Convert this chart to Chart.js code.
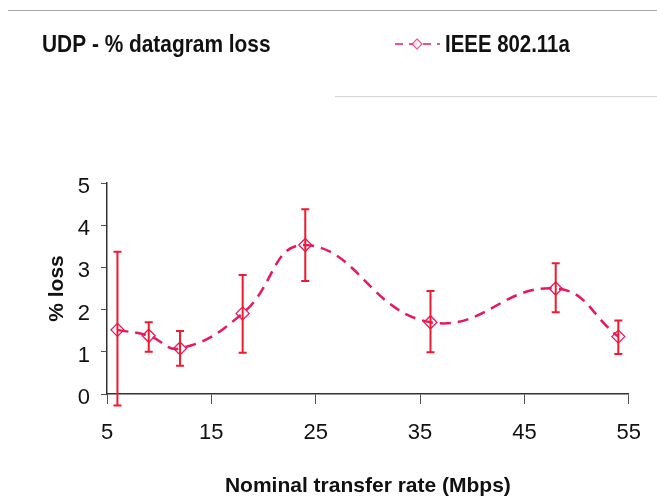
<!DOCTYPE html>
<html>
<head>
<meta charset="utf-8">
<script src="https://cdn.jsdelivr.net/npm/chart.js@4.4.1/dist/chart.umd.min.js"></script>
<style>
  html, body { margin: 0; padding: 0; background: #fff; }
  #wrap { position: relative; width: 657px; height: 501px; }
  #chart { position: absolute; left: 0; top: 0; }
  .rule { position: absolute; height: 0; border-top: 1px solid #a8a8a8; }
</style>
</head>
<body>
<div id="wrap">
  <div class="rule" style="left:8px; top:10px; width:649px;"></div>
  <div class="rule" style="left:335px; top:96px; width:322px; border-color:#d4d4d4;"></div>
  <canvas id="chart" width="657" height="501"></canvas>
</div>
<script>
// ---- données ----
const chartTitle = 'UDP - % datagram loss';
const seriesName = 'IEEE 802.11a';
const rates = [6, 9, 12, 18, 24, 36, 48, 54];            // Mbps
const lossPct = [1.52, 1.38, 1.08, 1.91, 3.53, 1.70, 2.50, 1.36];
const lossHigh = [3.37, 1.70, 1.49, 2.82, 4.38, 2.44, 3.10, 1.74];
const lossLow = [-0.27, 1.00, 0.67, 0.98, 2.68, 0.99, 1.94, 0.95];
const xTicks = [5, 15, 25, 35, 45, 55];
const yTicks = [0, 1, 2, 3, 4, 5];

const FONT = "Arial, 'Liberation Sans', sans-serif";
const LINE_COLOR = '#e8195a';
const BAR_COLOR = '#ec1b30';

const points = rates.map((r, i) => ({ x: r, y: lossPct[i] }));

// barres d'erreur dessinées à partir des échelles du graphique
const errorBars = {
    id: 'errorBars',
    afterDatasetsDraw(chart) {
        const { ctx, scales: { x, y } } = chart;
        ctx.save();
        ctx.strokeStyle = BAR_COLOR;
        ctx.lineWidth = 2;
        rates.forEach((r, i) => {
            const px = x.getPixelForValue(r);
            const top = y.getPixelForValue(lossHigh[i]);
            const bot = y.getPixelForValue(lossLow[i]);
            ctx.beginPath();
            ctx.moveTo(px, top);
            ctx.lineTo(px, bot);
            ctx.moveTo(px - 4, top);
            ctx.lineTo(px + 4, top);
            ctx.moveTo(px - 4, bot);
            ctx.lineTo(px + 4, bot);
            ctx.stroke();
        });
        ctx.restore();
    }
};

// texte étroit (la police d'origine est condensée)
function narrowText(ctx, text, x, y, squeeze) {
    ctx.save();
    ctx.translate(x, y);
    ctx.scale(squeeze, 1);
    ctx.fillText(text, 0, 0);
    ctx.restore();
}

// titre et légende dans la bande du haut
const header = {
    id: 'header',
    afterDraw(chart) {
        const ctx = chart.ctx;
        ctx.save();
        ctx.fillStyle = '#111';
        ctx.font = `bold 24px ${FONT}`;
        ctx.textBaseline = 'alphabetic';
        ctx.textAlign = 'left';
        narrowText(ctx, chartTitle, 42, 52, 0.87);

        // échantillon de légende
        ctx.strokeStyle = LINE_COLOR;
        ctx.lineWidth = 2;
        ctx.setLineDash([8, 6]);
        ctx.globalAlpha = 0.75;
        ctx.beginPath();
        ctx.moveTo(395, 44);
        ctx.lineTo(440, 44);
        ctx.stroke();
        ctx.setLineDash([]);
        ctx.lineWidth = 1.2;
        ctx.fillStyle = '#fff';
        ctx.beginPath();
        ctx.moveTo(417, 39);
        ctx.lineTo(422, 44);
        ctx.lineTo(417, 49);
        ctx.lineTo(412, 44);
        ctx.closePath();
        ctx.fill();
        ctx.stroke();
        ctx.globalAlpha = 1;

        ctx.fillStyle = '#111';
        narrowText(ctx, chart.data.datasets[0].label, 445, 52, 0.85);
        ctx.restore();
    }
};

new Chart(document.getElementById('chart'), {
    type: 'line',
    data: {
        datasets: [{
            label: seriesName,
            data: points,
            borderColor: LINE_COLOR,
            borderWidth: 2.5,
            borderDash: [11, 7],
            tension: 0.45,
            fill: false,
            pointStyle: 'rectRot',
            pointRadius: 6.5,
            pointBorderWidth: 1.3,
            pointBorderColor: LINE_COLOR,
            pointBackgroundColor: 'rgba(255,255,255,0)'
        }]
    },
    options: {
        responsive: false,
        animation: false,
        layout: { padding: { top: 183, right: 25, left: 0, bottom: 0 } },
        plugins: {
            legend: { display: false },
            title: { display: false },
            tooltip: { enabled: false }
        },
        scales: {
            x: {
                type: 'linear',
                min: 5,
                max: 55,
                afterBuildTicks: s => { s.ticks = xTicks.map(v => ({ value: v })); },
                afterFit: s => { s.height = 107; },
                border: { color: '#333', width: 1.5 },
                grid: { drawOnChartArea: false, drawTicks: true, tickLength: 10, color: '#555' },
                ticks: { color: '#111', font: { family: FONT, size: 22 }, padding: 16, maxRotation: 0 },
                title: {
                    display: true,
                    text: 'Nominal transfer rate (Mbps)',
                    color: '#111',
                    font: { family: FONT, size: 21, weight: 'bold' },
                    padding: { top: 0, bottom: 2 }
                }
            },
            y: {
                min: 0,
                max: 5,
                afterBuildTicks: s => { s.ticks = yTicks.map(v => ({ value: v })); },
                afterFit: s => { s.width = 107; },
                border: { color: '#333', width: 1.5 },
                grid: { drawOnChartArea: false, drawTicks: true, tickLength: 6, color: '#555' },
                ticks: { color: '#111', font: { family: FONT, size: 22 }, padding: 11, labelOffset: 4 },
                title: {
                    display: true,
                    text: '% loss',
                    color: '#111',
                    font: { family: FONT, size: 21, weight: 'bold' },
                    padding: { top: 45, bottom: 0 }
                }
            }
        }
    },
    plugins: [errorBars, header]
});
</script>
</body>
</html>
